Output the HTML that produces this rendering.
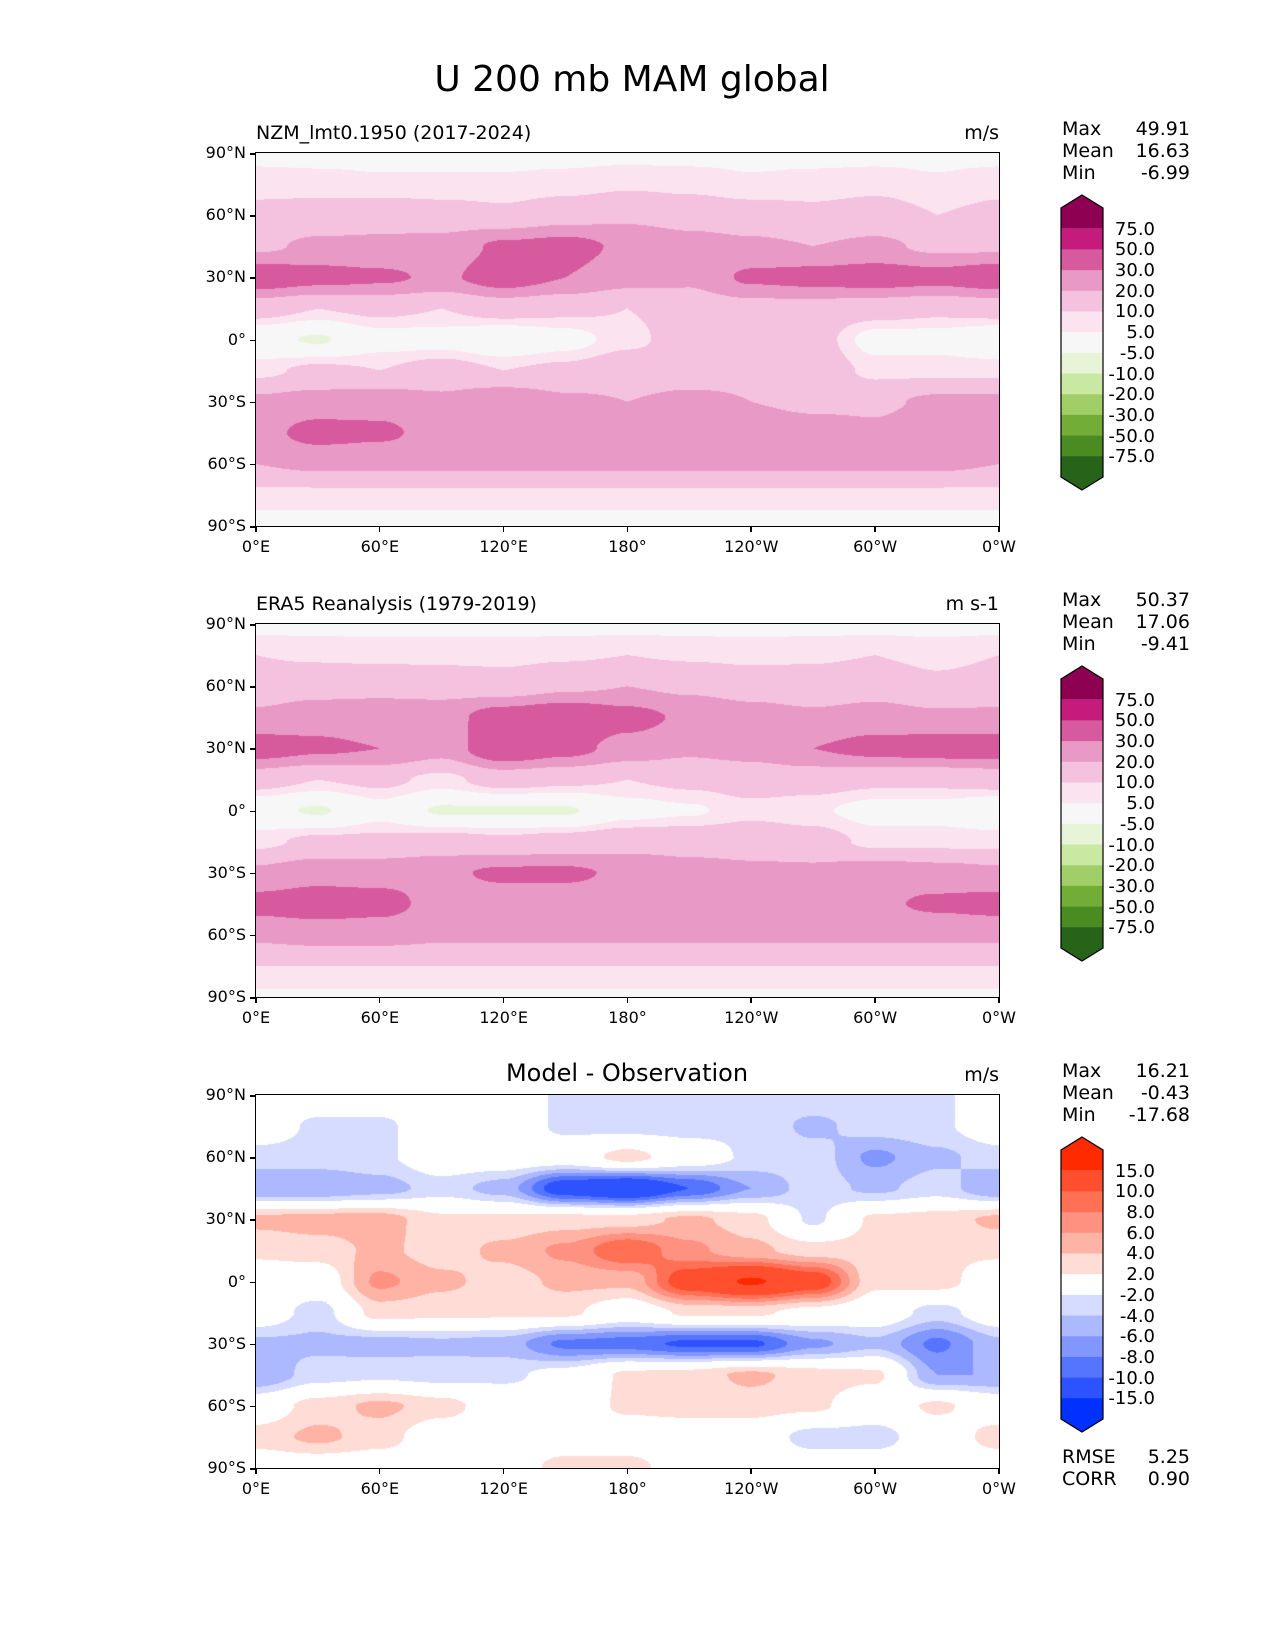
<!DOCTYPE html>
<html><head><meta charset="utf-8"><style>
body{margin:0;background:#fff;font-family:"DejaVu Sans","Liberation Sans",sans-serif;}
#fig{position:relative;width:1275px;height:1650px;overflow:hidden;background:#fff}
.t{position:absolute;white-space:nowrap;color:#000}
canvas{position:absolute}
</style></head><body>
<div id="fig">
<div class="t" style="left:0;width:1264px;text-align:center;top:59px;font-size:36px">U 200 mb MAM global</div>
</div>
<script>
// grid: lon 0..360 step 30, lat 90N..90S step 15
const lons=[0,30,60,90,120,150,180,210,240,270,300,330,360];
const lats=[90,75,60,45,30,15,0,-15,-30,-45,-60,-75,-90];
const modelGrid=[
[3,3,3,3,3,3,3,3,3,3,3,3,3],
[8,7,6,6,6,7,9,8,6,7,8,6,8],
[12,14,16,14,12,16,18,16,14,12,14,10,12],
[18,22,22,24,32,34,28,24,22,20,22,18,18],
[38,34,32,28,36,30,24,22,32,34,36,34,38],
[14,10,12,10,14,12,10,14,16,16,14,12,14],
[-2,-6,2,2,-2,2,8,14,18,14,2,2,-2],
[8,12,10,14,10,12,16,16,18,16,8,8,8],
[22,24,26,22,28,22,20,22,20,18,18,22,22],
[26,34,32,26,24,24,24,26,26,24,22,28,26],
[20,22,22,22,22,22,22,22,22,22,22,22,20],
[8,8,8,8,8,8,8,8,8,8,8,8,8],
[2,2,2,2,2,2,2,2,2,2,2,2,2]];
const obsGrid=[
[3,3,3,3,3,3,3,3,3,3,3,3,3],
[10,9,8,8,8,9,10,9,8,9,10,8,10],
[14,16,18,16,14,18,20,18,16,14,16,12,14],
[22,26,24,26,36,40,34,28,24,22,24,22,22],
[36,32,30,24,40,34,26,22,24,30,34,36,36],
[14,10,12,8,14,12,10,12,14,14,12,12,14],
[-2,-6,2,-6,-6,-6,2,4,8,6,2,2,-2],
[8,12,12,14,12,14,16,16,16,14,8,8,8],
[22,26,26,28,32,32,28,24,22,22,26,24,22],
[34,36,34,26,24,24,24,26,26,24,28,32,34],
[22,24,24,22,22,22,22,22,22,22,22,22,22],
[10,10,10,10,10,10,10,10,10,10,10,10,10],
[4,4,4,4,4,4,4,4,4,4,4,4,4]];
const diffGrid=[
[0,0,0,0,0,-2.5,-3,-3,-3,-2.5,-2.5,-2.5,0],
[0,-2.5,-2.5,0,0,-2.5,-3,-3,-2.5,-4.5,-3,-2.5,0],
[-3,-3,-2.5,0,0,0,3,0,-2.5,-3,-6.5,-4.5,-3],
[-6,-6,-5,-3,-5,-12,-14,-10,-6,-3,-4.5,-3,-6],
[4.5,5,5,2.5,2.5,3,3,4.5,3,-2.5,2.5,3,4.5],
[2.5,3,4.5,3,4.5,6.5,10,6.5,4.5,3,3,2.5,2.5],
[0,0,6.5,4.5,3,4.5,4.5,12,15.5,12,2.5,3,0],
[0,-3,3,2.5,2.5,2.5,0,2.5,2.5,1,0,-3,0],
[-4.5,-4.5,-5,-4.5,-5,-8.5,-9,-10.5,-10.5,-6.5,-4.5,-8.5,-4.5],
[-6,-3,-2.5,-3,-2.5,-1,2.5,3,4.5,3,2.5,-6,-6],
[0,3,4.5,3,0,0,2.5,3,3,2.5,0,2.5,0],
[3,4.5,3,0,0,0,0,0,0,-3,-3,0,3],
[0,0,0,0,0,3,3,0,0,0,0,0,0]];
const fullLevels=[-75,-50,-30,-20,-10,-5,5,10,20,30,50,75];
const fullColors=["#276419","#4a8b22","#71ad37","#9fcf66","#c9e8a2","#e8f4d8","#f7f7f7","#fbe3ef","#f4c1de","#e899c5","#d75a9f","#c51b7d","#8e0152"];
const diffLevels=[-15,-10,-8,-6,-4,-2,2,4,6,8,10,15];
const diffColors=["#0031ff","#2c53ff","#5575ff","#8296ff","#adb9ff","#d6dcff","#ffffff","#ffdcd6","#ffb3a5","#ff9180","#ff7055","#ff4f2f","#ff2a00"];
const latTicks=["90°N","60°N","30°N","0°","30°S","60°S","90°S"];
const lonTicks=["0°E","60°E","120°E","180°","120°W","60°W","0°W"];
const panels=[
 {name:"model",title:"NZM_lmt0.1950 (2017-2024)",unit:"m/s",grid:modelGrid,lv:fullLevels,cl:fullColors,stats:[["Max","49.91"],["Mean","16.63"],["Min","-6.99"]]},
 {name:"obs",title:"ERA5 Reanalysis (1979-2019)",unit:"m s-1",grid:obsGrid,lv:fullLevels,cl:fullColors,stats:[["Max","50.37"],["Mean","17.06"],["Min","-9.41"]]},
 {name:"diff",title:"Model - Observation",unit:"m/s",grid:diffGrid,lv:diffLevels,cl:diffColors,stats:[["Max","16.21"],["Mean","-0.43"],["Min","-17.68"]],extra:[["RMSE","5.25"],["CORR","0.90"]]}
];
const fig=document.getElementById('fig');
const AX=256,AW=743,AH=373,tops=[153,624,1095];
function txt(s,x,y,fs,align,name){const d=document.createElement('div');d.className='t';d.textContent=s;d.style.fontSize=fs+'px';d.style.top=y+'px';
 if(align==='right'){d.style.right=(1275-x)+'px';}else if(align==='center'){d.style.left=(x-200)+'px';d.style.width='400px';d.style.textAlign='center';}else d.style.left=x+'px';
 
 
 fig.appendChild(d);return d;}
function hex(c){return [parseInt(c.substr(1,2),16),parseInt(c.substr(3,2),16),parseInt(c.substr(5,2),16)];}
function band(v,lv){let i=0;while(i<lv.length&&v>=lv[i])i++;return i;}
panels.forEach((p,pi)=>{
 const top=tops[pi];
 const cv=document.createElement('canvas');cv.width=AW;cv.height=AH;cv.style.left=AX+'px';cv.style.top=top+'px';
 
 
 fig.appendChild(cv);
 const ctx=cv.getContext('2d');const im=ctx.createImageData(AW,AH);const rgb=p.cl.map(hex);
 for(let y=0;y<AH;y++){const lat=90-180*(y+0.5)/AH;let fr=(90-lat)/15;let r0=Math.min(11,Math.floor(fr));let ty=fr-r0;
  for(let x=0;x<AW;x++){const lon=360*(x+0.5)/AW;let fc=lon/30;let c0=Math.min(11,Math.floor(fc));let tx=fc-c0;
   const g=p.grid;const sx=tx*tx*(3-2*tx),sy=ty*ty*(3-2*ty);
   const v=(g[r0][c0]*(1-sx)+g[r0][c0+1]*sx)*(1-sy)+(g[r0+1][c0]*(1-sx)+g[r0+1][c0+1]*sx)*sy;
   const c=rgb[band(v,p.lv)];const k=(y*AW+x)*4;im.data[k]=c[0];im.data[k+1]=c[1];im.data[k+2]=c[2];im.data[k+3]=255;}}
 ctx.putImageData(im,0,0);
 const fr=document.createElement('div');fr.style.cssText=`position:absolute;left:${AX-1}px;top:${top-1}px;width:${AW}px;height:${AH}px;border:1.5px solid #000`;
 
 
 fig.appendChild(fr);
 latTicks.forEach((l,i)=>{const y=top+i*AH/6;
  const tk=document.createElement('div');tk.style.cssText=`position:absolute;left:${AX-6}px;top:${y}px;width:6px;height:1.5px;background:#000`;
  
  
  fig.appendChild(tk);
  txt(l,AX-10,y-10,16,'right','lat-tick-label');});
 lonTicks.forEach((l,i)=>{const x=AX+i*AW/6;
  const tk=document.createElement('div');tk.style.cssText=`position:absolute;left:${x-1}px;top:${top+AH}px;width:1.5px;height:6px;background:#000`;
  
  
  fig.appendChild(tk);
  txt(l,x,top+AH+11,16,'center','lon-tick-label');});
 if(pi<2)txt(p.title,AX,top-31,19,'left','panel-title');else txt(p.title,627,top-36,24,'center','panel-title');
 txt(p.unit,AX+AW,top-31,19,'right','units-label');
 p.stats.forEach((s,i)=>{txt(s[0],1062,top-35+i*22,19,'left','stat-name');txt(s[1],1190,top-35+i*22,19,'right','stat-value');});
 if(p.extra)p.extra.forEach((s,i)=>{txt(s[0],1062,top+AH-22+i*22,19,'left','stat-name');txt(s[1],1190,top+AH-22+i*22,19,'right','stat-value');});
 // colorbar
 const ns='http://www.w3.org/2000/svg';const svg=document.createElementNS(ns,'svg');
 svg.setAttribute('width','60');svg.setAttribute('height','310');svg.style.cssText=`position:absolute;left:1052px;top:${top+37}px`;
 
 
 const x0=9,x1=51,yt=5,yr=18,yb=287,ybt=300,bh=(yb-yr)/13;
 const n=p.cl.length;
 for(let i=0;i<n;i++){const ci=n-1-i;let el=document.createElementNS(ns,'polygon');let pts;
  const a=yr+i*bh;
  if(i===0)pts=`${x0},${yr} 30,${yt} ${x1},${yr} ${x1},${a+bh} ${x0},${a+bh}`;
  else if(i===n-1)pts=`${x0},${a} ${x1},${a} ${x1},${yb} 30,${ybt} ${x0},${yb}`;
  else pts=`${x0},${a} ${x1},${a} ${x1},${a+bh+0.5} ${x0},${a+bh+0.5}`;
  el.setAttribute('points',pts);el.setAttribute('fill',p.cl[ci]);
  
  
  svg.appendChild(el);}
 const o=document.createElementNS(ns,'polygon');o.setAttribute('points',`${x0},${yr} 30,${yt} ${x1},${yr} ${x1},${yb} 30,${ybt} ${x0},${yb}`);
 o.setAttribute('fill','none');o.setAttribute('stroke','#000');o.setAttribute('stroke-width','1.2');
 
 
 svg.appendChild(o);
 fig.appendChild(svg);
 const lvR=p.lv.slice().reverse();
 lvR.forEach((l,i)=>{const yy=top+37+yr+(yb-yr)/13*(i+1);
  txt(l.toFixed(1),1155,yy-10,18,'right','colorbar-label');});
});
</script>
</body></html>
